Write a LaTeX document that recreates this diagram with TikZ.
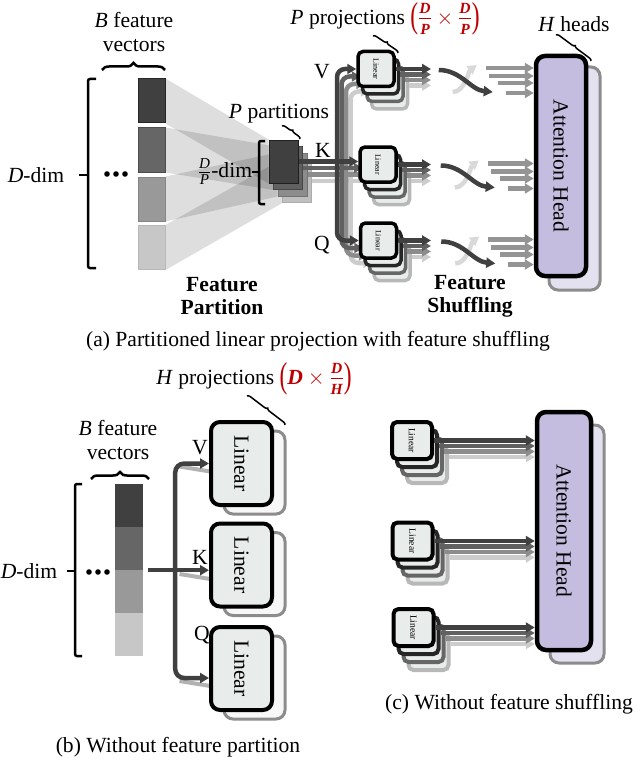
\RequirePackage{fix-cm}
\documentclass[tikz,border=0pt]{standalone}
\usepackage{fontspec}
\setmainfont{Liberation Serif}
\usepackage{amsmath}
\usepackage{graphicx}
\usetikzlibrary{arrows.meta}
\usetikzlibrary{positioning}
\usetikzlibrary{calc}
\usetikzlibrary{backgrounds}
\usetikzlibrary{decorations.pathreplacing}
\definecolor{headfill}{RGB}{197,189,223}
\definecolor{headback}{RGB}{227,225,240}
\definecolor{linfill}{RGB}{232,236,234}
\definecolor{projred}{RGB}{192,0,0}
\colorlet{lay0}{black!75}
\colorlet{lay1}{black!62}
\colorlet{lay2}{black!45}
\colorlet{lay3}{black!20}
\colorlet{edge0}{black}
\colorlet{edge1}{black!85}
\colorlet{edge2}{black!60}
\colorlet{edge3}{black!28}
\newcommand{\redlet}[1]{\text{\fontsize{15.5}{16}\selectfont\bfseries\itshape #1}}
\newcommand{\redfrac}[2]{\tfrac{\redlet{#1}\rule[-4pt]{0pt}{4pt}}{\rule{0pt}{14pt}\redlet{#2}}}
\newcommand{\tallpar}[1]{\raisebox{-3.5pt}{\scalebox{0.65}[1]{\fontsize{36}{36}\selectfont #1}}}
\begin{document}
\begin{tikzpicture}[x=1pt,y=-1pt,font=\fontsize{21.6}{25}\selectfont,
  every node/.style={inner sep=0pt},
  arw/.style={-{Triangle[length=9pt,width=10pt]}},
  flow/.style={arw,line width=4.5pt},
  vecbox/.style={minimum width=27pt,minimum height=44pt,line width=1pt},
  part/.style={minimum width=29pt,minimum height=43pt,line width=1pt},
  lin/.style={rounded corners=5pt,line width=3.5pt,fill=linfill,minimum width=36pt,minimum height=35pt},
  bigbox/.style={rounded corners=9pt,line width=4pt,minimum width=61pt,minimum height=83pt},
  head/.style={rounded corners=9pt,line width=4.5pt,fill=headfill,draw=black,minimum width=50pt,minimum height=220pt},
  headbk/.style={rounded corners=9pt,line width=3pt,fill=headback,draw=black!45,minimum width=51pt,minimum height=223pt},
  bracebar/.style={decorate,decoration={brace,amplitude=7pt},line width=2.5pt},
  tinybrace/.style={decorate,decoration={brace,amplitude=3pt},line width=1.5pt},
  dimbar/.style={line width=2.5pt,rounded corners=2pt},
  tag/.style={font=\fontsize{21.6}{23}\selectfont\bfseries,align=center}]
  \useasboundingbox (0,0) rectangle (635,765);

  % (a)
  \node (bfa) at (134,20) {\textit{B} feature};
  \node (bva) at (134,46) {vectors};
  \draw[bracebar] (102,70) -- (165,70);
  \foreach \i/\y/\g/\b in {1/101/75/85,2/150/60/70,3/199/40/48,4/247.5/22/28}
    \node[vecbox,fill=black!\g,draw=black!\b] (a\i) at (151.5,\y) {};
  \foreach \i/\g/\b in {3/25/32,2/45/55,1/62/72,0/75/88}
    \node[part,fill=black!\g,draw=black!\b] (p\i) at (283.5+4.6*\i,161.5+6.5*\i) {};
  \begin{scope}[on background layer]
    \foreach \i/\j in {1/0,2/1,3/2,4/3}
      \fill[black,opacity=0.13] (a\i.north east) -- (p\j.north west) -- (p\j.south west) -- (a\i.south east) -- cycle;
  \end{scope}
  \node (dda) at (36,175) {\textit{D}-dim};
  \draw[dimbar] (96,79) -- (88,79) -- (88,268) -- (96,268);
  \draw[line width=2.5pt] (88,175) -- (79,175);
  \foreach \x in {107,116,125} \fill (\x,174) circle (2.8pt);
  \node (dpa) at (225,172) {$\frac{\textit{D}}{\textit{P}}$-dim};
  \draw[dimbar] (265,141) -- (259,141) -- (259,204) -- (265,204);
  \draw[line width=2.5pt] (259,172) -- (252,172);
  \node (ppa) at (279,114) {\textit{P} partitions};
  \draw[tinybrace] (282,126) -- (300,139);

  \node[headbk] (ahb) at (574.5,178.5) {};
  \node[head] (ah) at (561,166) {};
  \node[rotate=-90] (aht) at (ah) {Attention Head};
  \node (hh) at (574,24) {\textit{H} heads};
  \draw[tinybrace] (556,35) -- (591,61);

  \coordinate (cut) at (431,0);
  \foreach \i in {3,2,1,0}{
    \node[lin,draw=edge\i] (v\i) at (376+4.5*\i,69+7.5*\i) {};
    \node[lin,draw=edge\i] (k\i) at (378+4.5*\i,164.5+7.5*\i) {};
    \node[lin,draw=edge\i] (q\i) at (378.5+4.5*\i,240.5+7.5*\i) {};
    \coordinate (bus\i) at (337+4.5*\i,0);
    \draw[flow,lay\i,rounded corners=8pt] (p\i.east -| bus\i) |- (v\i.west);
    \draw[flow,lay\i,rounded corners=8pt] (p\i.east -| bus\i) |- (q\i.west);
    \draw[flow,lay\i] (p\i.east) -- (p\i.east -| k\i.west);
    \foreach \s in {v,k,q}
      \draw[flow,lay\i] ([yshift=2*\i]\s\i.east) coordinate (o) -- (o -| cut);
  }
  \foreach \s in {v,k,q}{
    \node[rotate=-90,font=\fontsize{8}{9}\selectfont] (\s-t) at (\s0) {Linear};
    \draw[flow,black!15] ($(\s0.east)+(57,23)$) .. controls +(12,0) and +(-8,6) .. ($(\s0.east)+(81,-4)$);
    \draw[flow,lay0] ($(\s0.east)+(43,1)$) .. controls +(22,0) and +(-22,-2) .. ($(\s0.east)+(97,23)$);
    \foreach \dx/\dy in {90/-1,93/7,102/14,110/24}
      \draw[flow,black!42] ($(\s0.east)+(\dx,\dy)$) coordinate (o) -- (o -| ah.west);
  }
  \node (pp) at (385,19) {\textit{P} projections \textcolor{projred}{\tallpar{(}$\redfrac{D}{P}\times\redfrac{D}{P}$\tallpar{)}}};
  \draw[tinybrace] (373,36) -- (398,53);
  \node (va) at (322,72) {V};
  \node (ka) at (323,150) {K};
  \node (qa) at (322,245) {Q};
  \node[tag] (fp) at (222,296) {Feature\\Partition};
  \node[tag] (fs) at (470,296) {Feature\\Shuffling};
  \node (capa) at (318,341) {(a) Partitioned linear projection with feature shuffling};

  % (b)
  \node (hp) at (254,379) {\textit{H} projections \textcolor{projred}{\tallpar{(}$\textbf{\textit{D}}\times\redfrac{D}{H}$\tallpar{)}}};
  \draw[tinybrace] (247,396) -- (285,425);
  \node (bfb) at (118,428) {\textit{B} feature};
  \node (bvb) at (118,454) {vectors};
  \draw[bracebar] (91,479) -- (149,479);
  \foreach \i/\y/\g in {1/505.5/75,2/548.5/60,3/591.5/40,4/634.5/22}
    \node[minimum width=28pt,minimum height=43pt,fill=black!\g] (s\i) at (129,\y) {};
  \node (ddb) at (29,571) {\textit{D}-dim};
  \draw[dimbar] (82,484) -- (75,484) -- (75,656) -- (82,656);
  \draw[line width=2.5pt] (75,571) -- (67,571);
  \foreach \x in {89,98,107} \fill (\x,572) circle (2.8pt);
  \coordinate (inb) at ($(s2.south east)+(5,0)$);
  \coordinate (jb) at ($(inb)+(27,0)$);
  \foreach \n/\y/\d in {bv/463.5/0,bk/565/6,bq/668.5/9.5}{
    \node[bigbox,draw=black!45,fill=black!3,line width=3pt] (\n2) at (254.5,\y+9) {};
    \draw[line width=4pt,black!30] ($(\n2.west)+(-43,\d-6)$) -- ($(\n2.west)+(0,\d+1)$);
    \node[bigbox,draw=black,fill=linfill] (\n) at (241.5,\y) {};
    \node[rotate=-90] (\n-t) at (\n) {Linear};
  }
  \draw[flow,lay0] (inb) -- (inb -| bk.west);
  \draw[flow,lay0,rounded corners=9pt] (jb) |- (bv.west);
  \draw[flow,lay0,rounded corners=9pt] (jb) |- ([yshift=-9.5pt]bq.west);
  \node (vb) at (200,448) {V};
  \node (kb) at (200,557) {K};
  \node (qb) at (202,635) {Q};
  \node (capb) at (178,747) {(b) Without feature partition};

  % (c)
  \node[headbk,minimum width=54pt,minimum height=238pt] (hcb) at (577,544) {};
  \node[head,minimum width=54pt,minimum height=238pt] (hc) at (564,531) {};
  \node[rotate=-90] (hct) at (hc) {Attention Head};
  \foreach \n/\x/\y in {ca/412/440.5,cb/412.5/541,cc/413.5/627.5}{
    \foreach \i in {3,2,1,0}{
      \node[lin,draw=edge\i,minimum width=40pt,minimum height=37pt,line width=4pt] (\n\i) at (\x+5*\i,\y+8*\i) {};
      \draw[flow,lay\i] ([yshift=2.5*\i]\n\i.east) coordinate (o) -- (o -| hc.west);
    }
    \node[rotate=-90,font=\fontsize{9.5}{10}\selectfont] (\n-t) at (\n0) {Linear};
  }
  \node (capc) at (509,704) {(c) Without feature shuffling};
\end{tikzpicture}
\end{document}
